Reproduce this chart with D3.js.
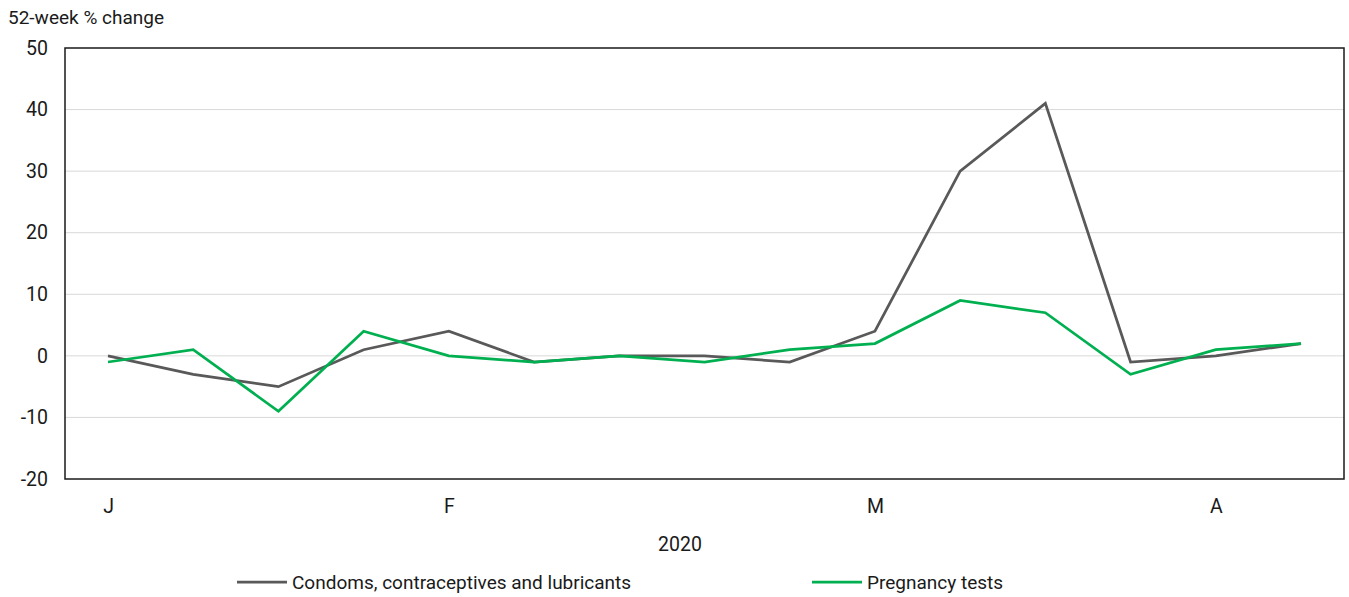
<!DOCTYPE html>
<html><head><meta charset="utf-8">
<script src="https://cdn.jsdelivr.net/npm/d3@7"></script>
<style>
body{margin:0;background:#fff;}
text{font-family:Roboto,"Liberation Sans",sans-serif;fill:#1a1a1a;}
</style></head>
<body><svg id="c" width="1349" height="597"></svg>
<script>
const weeks = d3.range(15);
const condoms = [0, -3, -5, 1, 4, -1, 0, 0, -1, 4, 30, 41, -1, 0, 2];
const pregnancy = [-1, 1, -9, 4, 0, -1, 0, -1, 1, 2, 9, 7, -3, 1, 2];
const monthTicks = [0, 4, 9, 13];
const monthLabels = ["J", "F", "M", "A"];
const yTicks = [-20, -10, 0, 10, 20, 30, 40, 50];
const seriesNames = ["Condoms, contraceptives and lubricants", "Pregnancy tests"];
const colors = ["#595959", "#00b050"];

const svg = d3.select("#c");
const L = 65, R = 1344, T = 48, B = 479;
const xs = d3.scaleLinear().domain([0, 14]).range([108, 1301]);
const y = d3.scaleLinear().domain([-20, 50]).range([B, T]);

// gridlines
svg.append("g").selectAll("line").data(yTicks.filter(v => v > -20 && v < 50)).join("line")
  .attr("x1", L).attr("x2", R).attr("y1", d => y(d)).attr("y2", d => y(d))
  .attr("stroke", "#d9d9d9").attr("stroke-width", 1);

// y axis labels
const ya = svg.append("g").attr("transform", `translate(${L},0)`)
  .call(d3.axisLeft(y).tickValues(yTicks).tickFormat(d => String(d)).tickSize(0).tickPadding(17));
ya.select(".domain").remove();
ya.selectAll("text").style("font-size", "19.5px").attr("fill", "#1a1a1a");

// x axis labels
const xa = svg.append("g").attr("transform", `translate(0,${B})`)
  .call(d3.axisBottom(xs).tickValues(monthTicks).tickFormat((d, i) => monthLabels[i]).tickSize(0).tickPadding(20));
xa.select(".domain").remove();
xa.selectAll("text").style("font-size", "19.5px").attr("fill", "#1a1a1a");

// frame
svg.append("rect").attr("x", L).attr("y", T).attr("width", R - L).attr("height", B - T)
  .attr("fill", "none").attr("stroke", "#1a1a1a").attr("stroke-width", 1.5);

const line = d3.line().x((d, i) => xs(i)).y(d => y(d));
[condoms, pregnancy].forEach((s, k) => {
  svg.append("path").datum(s).attr("d", line).attr("fill", "none")
    .attr("stroke", colors[k]).attr("stroke-width", 2.75).attr("stroke-linejoin", "miter");
});

svg.append("text").attr("x", 8).attr("y", 24).style("font-size", "19px").text("52-week % change");
svg.append("text").attr("x", 680).attr("y", 551).attr("text-anchor", "middle").style("font-size", "19.5px").text("2020");

const leg = [{x1: 237, tx: 292}, {x1: 812, tx: 867}];
leg.forEach((p, k) => {
  svg.append("line").attr("x1", p.x1).attr("x2", p.x1 + 50).attr("y1", 582).attr("y2", 582)
    .attr("stroke", colors[k]).attr("stroke-width", 2.75);
  svg.append("text").attr("x", p.tx).attr("y", 589).style("font-size", "19px").text(seriesNames[k]);
});
</script></body></html>
